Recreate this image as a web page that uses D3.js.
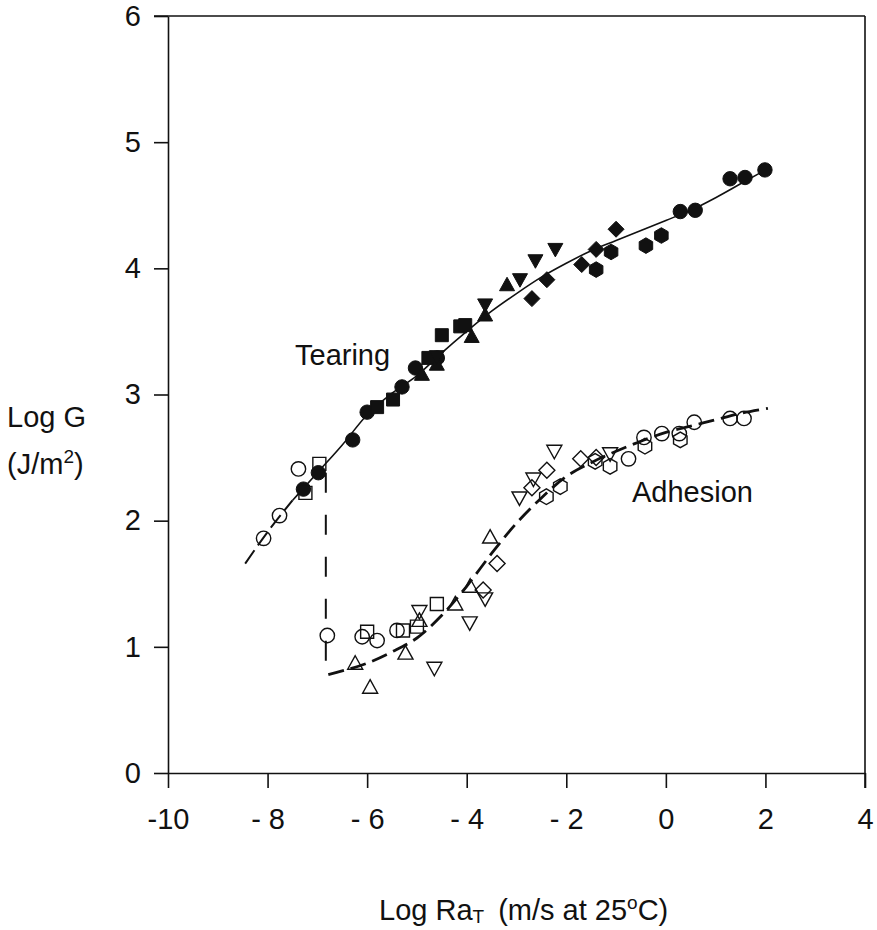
<!DOCTYPE html>
<html>
<head>
<meta charset="utf-8">
<script src="https://cdn.jsdelivr.net/npm/d3@7"></script>
<style>
  body { margin: 0; background: #fff; }
  text { font-family: "Liberation Sans", Arial, sans-serif; fill: #111; }
</style>
</head>
<body>
<div id="chart"></div>
<script>
// Tearing / adhesion energy vs. reduced rate

var xTicks = [-10, -8, -6, -4, -2, 0, 2, 4];
var xTickLabels = ["-10", "- 8", "- 6", "- 4", "- 2", "0", "2", "4"];
var yTicks = [0, 1, 2, 3, 4, 5, 6];

// filled symbols (tearing)
var fillCircle = [[-7.28, 2.25], [-6.98, 2.38], [-6.29, 2.64], [-6.0, 2.86], [-5.30, 3.06], [-5.03, 3.21],
  [-4.59, 3.29], [0.29, 4.45], [0.59, 4.46], [1.29, 4.71], [1.59, 4.72], [1.99, 4.78]];
var fillSquare = [[-5.80, 2.90], [-5.48, 2.96], [-4.77, 3.29], [-4.50, 3.47], [-4.13, 3.54], [-4.03, 3.55]];
var fillTriUp = [[-4.90, 3.16], [-4.60, 3.24], [-3.90, 3.46], [-3.63, 3.63], [-3.19, 3.87]];
var fillTriDown = [[-4.60, 3.30], [-3.63, 3.71], [-2.93, 3.91], [-2.62, 4.06], [-2.22, 4.15]];
var fillDiamond = [[-2.69, 3.76], [-2.39, 3.91], [-1.69, 4.03], [-1.40, 4.15], [-1.00, 4.31]];
var fillHexagon = [[-1.40, 3.99], [-1.10, 4.13], [-0.40, 4.18], [-0.09, 4.26]];

// open symbols (adhesion + low-rate tearing)
var openCircle = [[-8.08, 1.86], [-7.76, 2.04], [-7.38, 2.41], [-6.80, 1.09], [-6.10, 1.08], [-5.80, 1.05],
  [-5.40, 1.13], [-0.75, 2.49], [-0.44, 2.66], [-0.08, 2.69], [0.27, 2.69], [0.57, 2.78], [1.29, 2.81], [1.57, 2.81]];
var openSquare = [[-7.24, 2.22], [-6.96, 2.45], [-6.0, 1.12], [-5.28, 1.13], [-5.0, 1.16], [-4.60, 1.34]];
var openTriUp = [[-6.24, 0.87], [-5.94, 0.68], [-5.23, 0.95], [-4.95, 1.21], [-4.23, 1.34], [-3.93, 1.48], [-3.53, 1.87]];
var openTriDown = [[-4.95, 1.28], [-4.65, 0.83], [-3.94, 1.19], [-3.63, 1.38], [-2.94, 2.18], [-2.66, 2.33],
  [-2.24, 2.55], [-1.12, 2.53]];
var openDiamond = [[-3.67, 1.45], [-3.39, 1.66], [-2.69, 2.26], [-2.39, 2.40], [-1.71, 2.49], [-1.40, 2.50]];
var openHexagon = [[-2.40, 2.19], [-2.12, 2.27], [-1.42, 2.47], [-1.12, 2.43], [-0.42, 2.59], [0.29, 2.64]];

// fitted curves
var tearCurve = [[-8.45, 1.66], [-8.0, 1.91], [-7.5, 2.16], [-7.0, 2.38], [-6.5, 2.60], [-6.0, 2.84], [-5.5, 3.01],
  [-5.0, 3.15], [-4.5, 3.33], [-4.0, 3.50], [-3.5, 3.66], [-3.0, 3.80], [-2.5, 3.93], [-2.0, 4.04], [-1.5, 4.14],
  [-1.0, 4.22], [-0.5, 4.30], [0, 4.38], [0.5, 4.46], [1.0, 4.56], [1.5, 4.67], [2.0, 4.78]];
var adhCurve = [[-6.78, 0.78], [-6.4, 0.82], [-6.0, 0.87], [-5.5, 0.96], [-5.0, 1.07], [-4.5, 1.25], [-4.0, 1.48],
  [-3.5, 1.74], [-3.0, 1.98], [-2.5, 2.18], [-2.0, 2.35], [-1.5, 2.46], [-1.0, 2.55], [-0.5, 2.63], [0, 2.70],
  [0.5, 2.75], [1.0, 2.80], [1.5, 2.85], [2.05, 2.89]];
var dropLine = [[-6.83, 2.38], [-6.83, 0.87]];

var width = 877;
var height = 930;

var svg = d3.select("#chart")
  .append("svg")
  .attr("width", width)
  .attr("height", height);

svg.append("rect").attr("width", width).attr("height", height).attr("fill", "#fff");

var xScale = d3.scaleLinear().domain([-10, 4]).range([168, 865]);
var yScale = d3.scaleLinear().domain([0, 6]).range([773, 16]);

// Axes
var xAxis = d3.axisBottom(xScale)
  .tickValues(xTicks)
  .tickSize(15)
  .tickSizeOuter(0)
  .tickPadding(20)
  .tickFormat(function(d, i) { return xTickLabels[i]; });

var yAxis = d3.axisLeft(yScale)
  .tickValues(yTicks)
  .tickSize(14)
  .tickSizeOuter(0)
  .tickPadding(13)
  .tickFormat(d3.format("d"));

var gx = svg.append("g")
  .attr("transform", "translate(0," + yScale(0) + ")")
  .call(xAxis);
var gy = svg.append("g")
  .attr("transform", "translate(" + xScale(-10) + ",0)")
  .call(yAxis);

[gx, gy].forEach(function(g) {
  g.selectAll("path, line").attr("stroke", "#111").attr("stroke-width", 1.6);
  g.selectAll("text").style("font-size", "29px").attr("fill", "#111");
});

// top and right frame
svg.append("line")
  .attr("x1", xScale(-10) - 14).attr("x2", xScale(4))
  .attr("y1", yScale(6)).attr("y2", yScale(6))
  .attr("stroke", "#111").attr("stroke-width", 1.6);
svg.append("line")
  .attr("x1", xScale(4)).attr("x2", xScale(4))
  .attr("y1", yScale(6)).attr("y2", yScale(0) + 15)
  .attr("stroke", "#111").attr("stroke-width", 1.6);

// Curves
var line = d3.line()
  .x(function(d) { return xScale(d[0]); })
  .y(function(d) { return yScale(d[1]); })
  .curve(d3.curveMonotoneX);

svg.append("path")
  .datum(tearCurve.filter(function(d) { return d[0] <= -7.5; }))
  .attr("d", line)
  .attr("fill", "none").attr("stroke", "#111").attr("stroke-width", 2)
  .attr("stroke-dasharray", "16,6");
svg.append("path")
  .datum(tearCurve.filter(function(d) { return d[0] >= -7.5; }))
  .attr("d", line)
  .attr("fill", "none").attr("stroke", "#111").attr("stroke-width", 1.6);

svg.append("path")
  .datum(adhCurve)
  .attr("d", line.curve(d3.curveCatmullRom))
  .attr("fill", "none").attr("stroke", "#111").attr("stroke-width", 2.8)
  .attr("stroke-dasharray", "16,7");

svg.append("path")
  .datum(dropLine)
  .attr("d", d3.line().x(function(d) { return xScale(d[0]); }).y(function(d) { return yScale(d[1]); }))
  .attr("fill", "none").attr("stroke", "#111").attr("stroke-width", 2)
  .attr("stroke-dasharray", "20,22");

// Marker shapes
function shapePath(type) {
  var pts;
  if (type === "circle") {
    return "M7.2,0A7.2,7.2 0 1,1 -7.2,0A7.2,7.2 0 1,1 7.2,0Z";
  }
  if (type === "square") pts = [[-6.5, -6.5], [6.5, -6.5], [6.5, 6.5], [-6.5, 6.5]];
  if (type === "triUp") pts = [[0, -7.5], [7.5, 6], [-7.5, 6]];
  if (type === "triDown") pts = [[0, 7.5], [7.5, -6], [-7.5, -6]];
  if (type === "diamond") pts = [[0, -8], [8, 0], [0, 8], [-8, 0]];
  if (type === "hexagon") {
    pts = d3.range(6).map(function(i) {
      var a = Math.PI / 6 + i * Math.PI / 3;
      return [7.8 * Math.cos(a), 7.8 * Math.sin(a)];
    });
  }
  return "M" + pts.join("L") + "Z";
}

var series = [
  { data: fillCircle, shape: "circle", filled: true },
  { data: fillSquare, shape: "square", filled: true },
  { data: fillTriUp, shape: "triUp", filled: true },
  { data: fillTriDown, shape: "triDown", filled: true },
  { data: fillDiamond, shape: "diamond", filled: true },
  { data: fillHexagon, shape: "hexagon", filled: true },
  { data: openCircle, shape: "circle", filled: false },
  { data: openSquare, shape: "square", filled: false },
  { data: openTriUp, shape: "triUp", filled: false },
  { data: openTriDown, shape: "triDown", filled: false },
  { data: openDiamond, shape: "diamond", filled: false },
  { data: openHexagon, shape: "hexagon", filled: false }
];

series.forEach(function(s) {
  svg.append("g")
    .selectAll("path")
    .data(s.data)
    .enter()
    .append("path")
    .attr("transform", function(d) {
      return "translate(" + xScale(d[0]) + "," + yScale(d[1]) + ")";
    })
    .attr("d", shapePath(s.shape))
    .attr("fill", s.filled ? "#111" : "none")
    .attr("stroke", "#111")
    .attr("stroke-width", s.filled ? 1 : 1.4);
});

// Labels
svg.append("text").attr("x", 295).attr("y", 365).style("font-size", "29px").text("Tearing");
svg.append("text").attr("x", 632).attr("y", 502).style("font-size", "29px").text("Adhesion");

svg.append("text").attr("x", 7).attr("y", 427).style("font-size", "29px").text("Log G");
var yl = svg.append("text").attr("x", 7).attr("y", 474).style("font-size", "29px");
yl.append("tspan").text("(J/m");
yl.append("tspan").attr("dy", -11).style("font-size", "19px").text("2");
yl.append("tspan").attr("dy", 11).text(")");

var xl = svg.append("text").attr("x", 379).attr("y", 920).style("font-size", "29px");
xl.append("tspan").text("Log Ra");
xl.append("tspan").attr("dy", 3).style("font-size", "19px").text("T");
xl.append("tspan").attr("dy", -3).attr("dx", 14).text("(m/s at 25");
xl.append("tspan").attr("dy", -11).style("font-size", "19px").text("o");
xl.append("tspan").attr("dy", 11).text("C)");
</script>
</body>
</html>
